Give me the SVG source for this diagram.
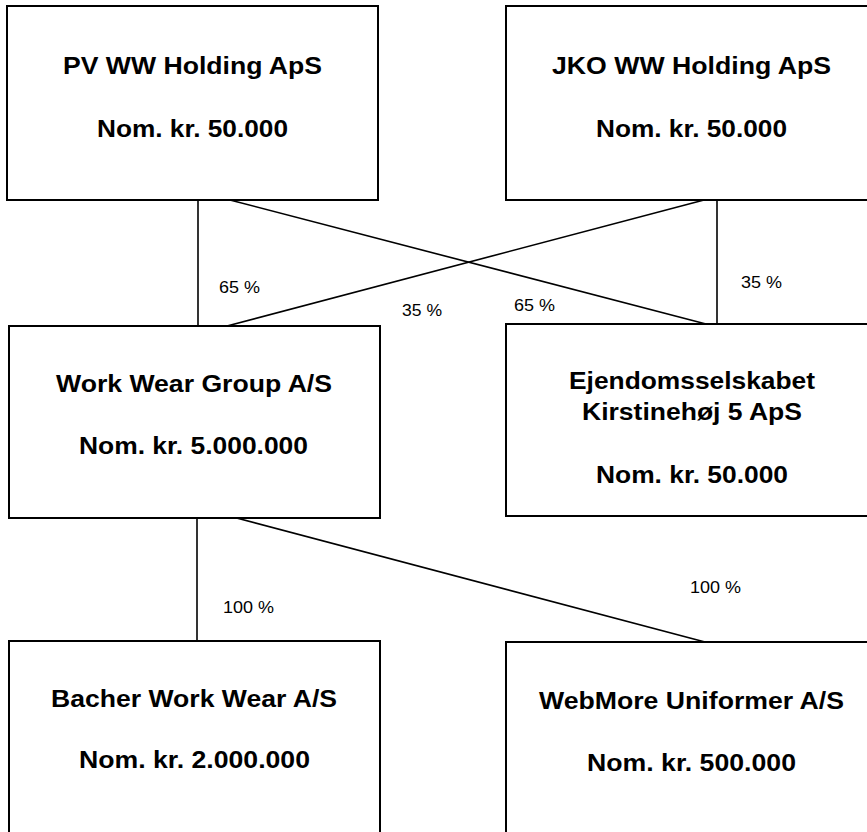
<svg xmlns="http://www.w3.org/2000/svg" width="867" height="832" viewBox="0 0 867 832">
<style>
.box{fill:#fff;stroke:#000;stroke-width:2}
.t{font-family:"Liberation Sans",Arial,sans-serif;font-weight:bold;font-size:23px;fill:#000;text-anchor:middle}
.l{font-family:"Liberation Sans",Arial,sans-serif;font-size:17px;fill:#000}
.c{stroke:#000;stroke-width:1.6;fill:none}
</style>
<rect width="867" height="832" fill="#fff"/>
<g id="connectors">
<line class="c" x1="198" y1="200" x2="198" y2="326"/>
<line class="c" x1="230" y1="200" x2="706" y2="324"/>
<line class="c" x1="704" y1="200" x2="227" y2="326"/>
<line class="c" x1="717" y1="200" x2="717" y2="326"/>
<line class="c" x1="197" y1="518" x2="197" y2="641"/>
<line class="c" x1="229" y1="516" x2="705" y2="642"/>
<text class="l" x="219" y="293" textLength="41" lengthAdjust="spacingAndGlyphs">65 %</text>
<text class="l" x="402" y="316" textLength="40" lengthAdjust="spacingAndGlyphs">35 %</text>
<text class="l" x="514" y="311" textLength="41" lengthAdjust="spacingAndGlyphs">65 %</text>
<text class="l" x="741" y="288" textLength="41" lengthAdjust="spacingAndGlyphs">35 %</text>
<text class="l" x="223" y="613" textLength="51" lengthAdjust="spacingAndGlyphs">100 %</text>
<text class="l" x="690" y="593" textLength="51" lengthAdjust="spacingAndGlyphs">100 %</text>
</g>
<g id="pv">
<rect class="box" x="7" y="6" width="371" height="194"/>
<text class="t" x="192.5" y="74" textLength="259" lengthAdjust="spacingAndGlyphs">PV WW Holding ApS</text>
<text class="t" x="192.5" y="137" textLength="191" lengthAdjust="spacingAndGlyphs">Nom. kr. 50.000</text>
</g>
<g id="jko">
<rect class="box" x="506" y="6" width="371" height="194"/>
<text class="t" x="691.5" y="74" textLength="279" lengthAdjust="spacingAndGlyphs">JKO WW Holding ApS</text>
<text class="t" x="691.5" y="137" textLength="191" lengthAdjust="spacingAndGlyphs">Nom. kr. 50.000</text>
</g>
<g id="wwg">
<rect class="box" x="9" y="326" width="371" height="192"/>
<text class="t" x="194" y="392" textLength="276" lengthAdjust="spacingAndGlyphs">Work Wear Group A/S</text>
<text class="t" x="193.5" y="454" textLength="229" lengthAdjust="spacingAndGlyphs">Nom. kr. 5.000.000</text>
</g>
<g id="ejendom">
<rect class="box" x="506" y="324" width="371" height="192"/>
<text class="t" x="692" y="389" textLength="246" lengthAdjust="spacingAndGlyphs">Ejendomsselskabet</text>
<text class="t" x="692" y="420" textLength="220" lengthAdjust="spacingAndGlyphs">Kirstinehøj 5 ApS</text>
<text class="t" x="692" y="483" textLength="192" lengthAdjust="spacingAndGlyphs">Nom. kr. 50.000</text>
</g>
<g id="bacher">
<rect class="box" x="9" y="641" width="371" height="200"/>
<text class="t" x="194" y="707" textLength="286" lengthAdjust="spacingAndGlyphs">Bacher Work Wear A/S</text>
<text class="t" x="194.5" y="768" textLength="231" lengthAdjust="spacingAndGlyphs">Nom. kr. 2.000.000</text>
</g>
<g id="webmore">
<rect class="box" x="506" y="642" width="371" height="200"/>
<text class="t" x="691.5" y="709" textLength="305" lengthAdjust="spacingAndGlyphs">WebMore Uniformer A/S</text>
<text class="t" x="691.5" y="771" textLength="209" lengthAdjust="spacingAndGlyphs">Nom. kr. 500.000</text>
</g>
</svg>
